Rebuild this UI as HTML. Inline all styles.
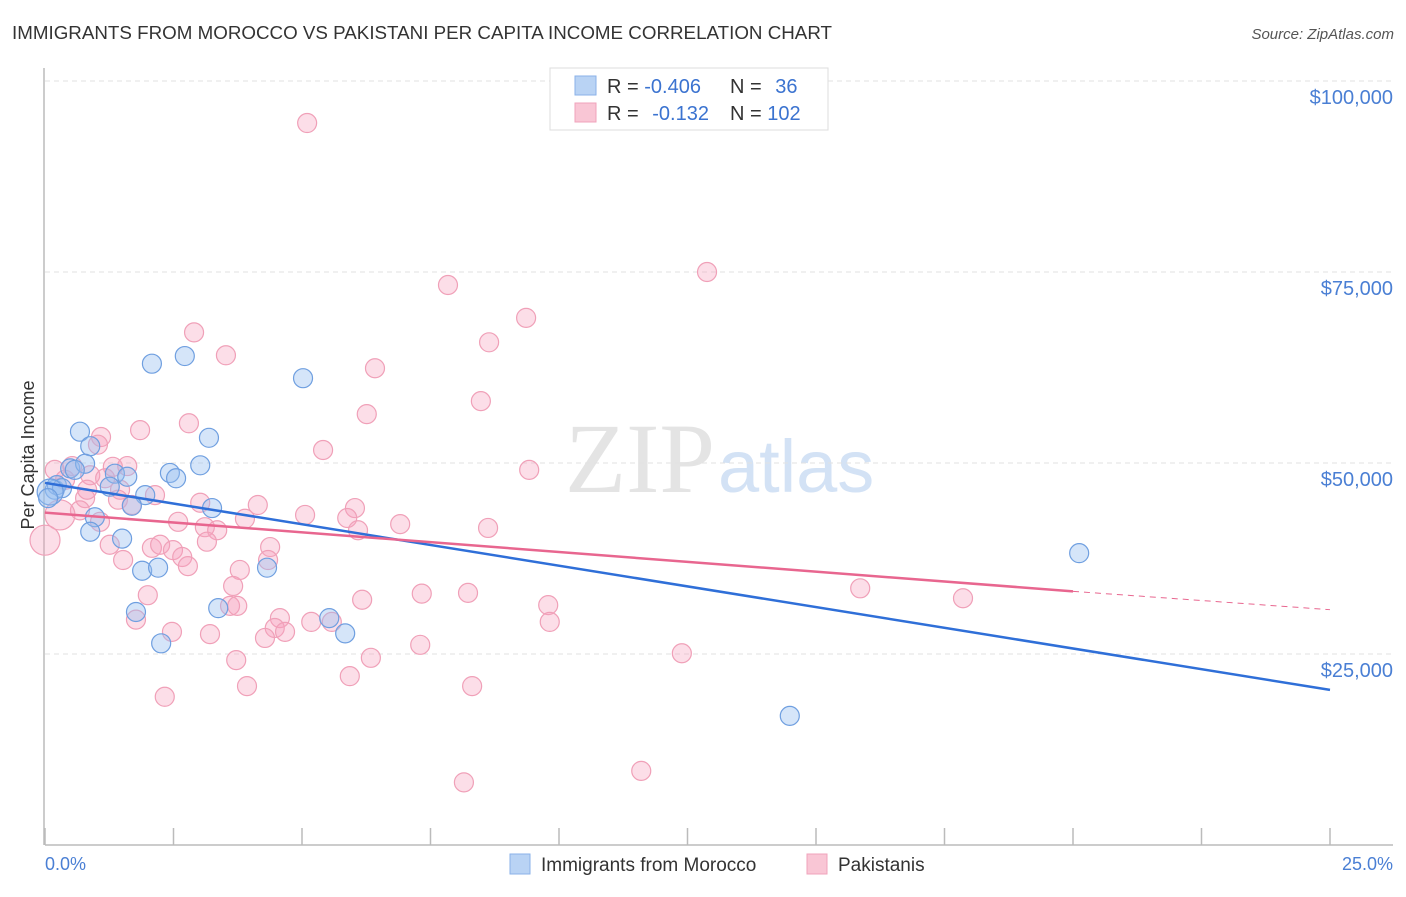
<!DOCTYPE html>
<html><head><meta charset="utf-8"><style>
body{margin:0;background:#fff;width:1406px;height:892px;overflow:hidden;font-family:"Liberation Sans",sans-serif}
</style></head><body>
<svg width="1406" height="892" xmlns="http://www.w3.org/2000/svg">
<text x="12" y="39" font-size="18" fill="#333" textLength="820" lengthAdjust="spacingAndGlyphs">IMMIGRANTS FROM MOROCCO VS PAKISTANI PER CAPITA INCOME CORRELATION CHART</text>
<text x="1394" y="39" font-size="15" fill="#555" font-style="italic" text-anchor="end">Source: ZipAtlas.com</text>
<text x="715" y="492" font-size="100" fill="#e4e4e4" text-anchor="end" font-family="Liberation Serif,serif">ZIP</text>
<text x="718" y="492" font-size="74" fill="#d3e2f5">atlas</text>
<g id="grid"></g><g id="axes"></g><g id="marks"></g>
<text x="34" y="455" font-size="18" fill="#333" text-anchor="middle" transform="rotate(-90 34 455)">Per Capita Income</text>
<text x="45" y="870" font-size="18" fill="#4a7fd4">0.0%</text>
<text x="1393" y="870" font-size="18" fill="#4a7fd4" text-anchor="end">25.0%</text>
<g>
<rect x="550" y="68" width="278" height="62" fill="#fff" stroke="#ddd"/>
<rect x="575" y="76" width="21" height="19" fill="#b9d3f4" stroke="#8ab2e8"/>
<rect x="575" y="103" width="21" height="19" fill="#f9c6d5" stroke="#f0a3bb"/>
<text x="607" y="93" font-size="20" fill="#333">R = <tspan fill="#3b73d0">-0.406</tspan></text>
<text x="730" y="93" font-size="20" fill="#333">N = <tspan fill="#3b73d0" dx="8">36</tspan></text>
<text x="607" y="120" font-size="20" fill="#333">R = <tspan fill="#3b73d0" dx="8">-0.132</tspan></text>
<text x="730" y="120" font-size="20" fill="#333">N = <tspan fill="#3b73d0">102</tspan></text>
</g>
<g>
<rect x="510" y="854" width="20" height="20" fill="#b9d3f4" stroke="#8ab2e8"/>
<text x="541" y="871" font-size="19" fill="#333">Immigrants from Morocco</text>
<rect x="807" y="854" width="20" height="20" fill="#f9c6d5" stroke="#f0a3bb"/>
<text x="838" y="871" font-size="19" fill="#333">Pakistanis</text>
</g>
</svg>
<script>
const yTicks=[25000,50000,75000,100000];
const blueX=[0.68,0.88,2.08,2.72,5.02,3.19,3.02,2.43,2.55,1.36,1.60,1.26,1.95,1.69,3.25,0.19,0.23,0.33,0.49,0.78,0.97,0.88,1.50,1.89,2.20,4.32,1.77,3.37,2.26,5.53,5.84,20.12,14.49,0.10,0.58,0.06];
const blueY=[54.1,52.2,63.0,64.0,61.1,53.3,49.7,48.7,48.0,48.6,48.2,46.9,45.8,44.4,44.1,46.5,47.1,46.7,49.3,49.9,42.9,41.0,40.1,35.9,36.3,36.3,30.5,31.0,26.4,29.7,27.7,38.2,16.9,46.2,49.1,45.4];
const pinkX=[5.10,12.88,7.84,9.36,8.64,2.90,3.52,6.42,8.48,6.26,2.80,1.85,1.09,5.41,9.42,1.60,0.19,0.53,0.88,1.17,1.46,2.14,1.42,1.69,0.78,3.02,4.14,6.03,5.06,5.88,6.91,8.62,2.59,3.11,3.35,3.89,6.09,1.07,0.68,0.29,0.0,2.08,2.24,2.49,2.67,2.78,3.15,4.38,3.79,4.34,1.52,3.66,7.33,6.17,8.23,9.79,2.00,3.60,3.74,4.57,5.18,5.58,9.82,4.47,4.67,1.77,2.47,3.21,4.28,7.30,12.39,3.72,6.34,5.93,3.93,8.31,2.33,11.60,8.15,15.86,17.86,1.26,1.03,0.39,1.32,0.82];
const pinkY=[94.5,75.0,73.3,69.0,65.8,67.1,64.1,62.4,58.1,56.4,55.2,54.3,53.4,51.7,49.1,49.6,49.1,49.6,48.4,48.0,46.5,45.8,45.2,44.5,45.4,44.8,44.5,44.1,43.2,42.8,42.0,41.5,42.3,41.6,41.2,42.7,41.2,42.3,43.8,43.2,39.9,38.9,39.3,38.6,37.7,36.5,39.7,39.0,36.0,37.3,37.3,33.9,32.9,32.1,33.0,31.4,32.7,31.3,31.3,29.7,29.2,29.2,29.2,28.4,27.9,29.5,27.9,27.6,27.1,26.2,25.1,24.2,24.5,22.1,20.8,20.8,19.4,9.7,8.2,33.6,32.3,39.3,52.4,47.8,49.5,46.5];
const blueBig=[33];const pinkBig=[40,39];
const blueTrend=[47.4,20.3];const pinkTrend=[43.5,33.2,30.8];
const NS="http://www.w3.org/2000/svg";
const sx=p=>45+p/25*1285, sy=k=>845-k/100*764;
function mk(tag,attrs,parent){const e=document.createElementNS(NS,tag);for(const k in attrs)e.setAttribute(k,attrs[k]);document.getElementById(parent).appendChild(e);return e;}
yTicks.forEach(v=>{
 const g=mk('line',{x1:45,x2:1393,y1:sy(v/1000),y2:sy(v/1000),stroke:'#e2e2e2','stroke-dasharray':'5,4'},'grid');
 
 
 const t=mk('text',{x:1393,y:sy(v/1000)+23,'font-size':20,fill:'#4a7fd4','text-anchor':'end'},'grid');
 t.textContent='$'+v.toLocaleString('en-US');
 
 
});
mk('line',{x1:44,x2:44,y1:68,y2:845,stroke:'#bbb','stroke-width':1.5},'axes');
mk('line',{x1:45,x2:1393,y1:845,y2:845,stroke:'#bbb','stroke-width':1.5},'axes');
for(let i=0;i<=10;i++){const l=mk('line',{x1:sx(i*2.5),x2:sx(i*2.5),y1:828,y2:845,stroke:'#bbb','stroke-width':1.5},'axes');
 
 }
pinkX.forEach((x,i)=>{const c=mk('circle',{cx:sx(x),cy:sy(pinkY[i]),r:pinkBig.includes(i)?15:9.5,fill:'rgba(245,160,190,0.35)',stroke:'#f0a0b8','stroke-width':1.2},'marks');
 
 });
blueX.forEach((x,i)=>{const c=mk('circle',{cx:sx(x),cy:sy(blueY[i]),r:blueBig.includes(i)?13:9.5,fill:'rgba(150,190,240,0.4)',stroke:'#6f9fe0','stroke-width':1.2},'marks');
 
 });
let l=mk('line',{x1:sx(0),y1:sy(blueTrend[0]),x2:sx(25),y2:sy(blueTrend[1]),stroke:'#2f6fd8','stroke-width':2.5},'marks');


l=mk('line',{x1:sx(0),y1:sy(pinkTrend[0]),x2:sx(20),y2:sy(pinkTrend[1]),stroke:'#e8668f','stroke-width':2.5},'marks');


l=mk('line',{x1:sx(20),y1:sy(pinkTrend[1]),x2:sx(25),y2:sy(pinkTrend[2]),stroke:'#e8668f','stroke-width':1,'stroke-dasharray':'6,5'},'marks');


</script>
</body></html>
